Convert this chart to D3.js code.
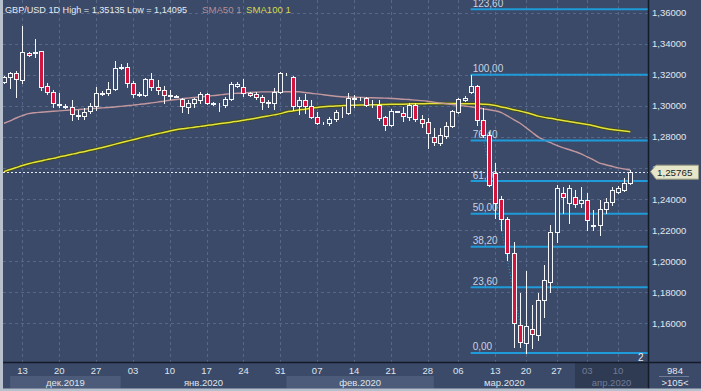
<!DOCTYPE html>
<html><head><meta charset="utf-8">
<script src="https://cdn.jsdelivr.net/npm/d3@7"></script>
<style>
body{margin:0;background:#3b4a68;overflow:hidden}
svg{display:block;font-family:"Liberation Sans",Arial,sans-serif}
</style>
</head><body>
<svg id="chart" width="701" height="391"></svg>
<script>
// ---------- DATA (daily GBP/USD candles) ----------
const opens = [1.3154,1.3186,1.3212,1.3167,1.3341,1.3341,1.3354,1.3128,1.3090,1.3006,
1.2996,1.2993,1.2935,1.2935,1.2967,1.2999,1.3077,1.3083,1.3109,1.3244,
1.3251,1.3147,1.3070,1.3070,1.3173,1.3122,1.3102,1.3064,1.3064,1.3044,
1.2993,1.3019,1.3038,1.3077,1.3019,1.3003,1.3006,1.3044,1.3128,1.3122,
1.3083,1.3077,1.3057,1.3019,1.3019,1.3090,1.3205,1.3186,1.2999,1.3038,
1.2999,1.2929,1.2890,1.2890,1.2916,1.2958,1.2954,1.3044,1.3051,1.3051,
1.3009,1.3006,1.2929,1.2877,1.2962,1.2954,1.2929,1.3006,1.2916,1.2896,
1.2800,1.2761,1.2806,1.2871,1.2961,1.3038,1.3090,1.3128,1.2909,1.2813,
1.2568,1.2400,1.2272,1.2053,1.1589,1.1473,1.1563,1.1525,1.1750,1.1866,
1.2188,1.2439,1.2375,1.2413,1.2375,1.2394,1.2227,1.2233,1.2336,1.2381,
1.2446,1.2458,1.2503];
const highs = [1.3193,1.3218,1.3225,1.3514,1.3347,1.3431,1.3354,1.3147,1.3102,1.3083,
1.3012,1.3038,1.2974,1.2986,1.3019,1.3122,1.3096,1.3154,1.3289,1.3270,
1.3276,1.3160,1.3090,1.3180,1.3212,1.3167,1.3128,1.3102,1.3070,1.3051,
1.3038,1.3051,1.3090,1.3083,1.3025,1.3019,1.3057,1.3154,1.3154,1.3173,
1.3090,1.3090,1.3070,1.3038,1.3115,1.3218,1.3212,1.3193,1.3057,1.3077,
1.3038,1.2961,1.2896,1.2929,1.2974,1.2993,1.3083,1.3070,1.3057,1.3057,
1.3038,1.3038,1.2935,1.2980,1.2967,1.2993,1.3019,1.3019,1.2941,1.2922,
1.2858,1.2858,1.2896,1.2974,1.3051,1.3064,1.3200,1.3135,1.2986,1.2832,
1.2632,1.2420,1.2285,1.2124,1.1795,1.1937,1.1718,1.1795,1.1975,1.2233,
1.2491,1.2478,1.2491,1.2458,1.2478,1.2439,1.2330,1.2394,1.2407,1.2478,
1.2484,1.2536,1.2587];
const lows = [1.3147,1.3115,1.3057,1.3147,1.3321,1.3315,1.3102,1.3077,1.2993,1.2993,
1.2986,1.2909,1.2916,1.2916,1.2954,1.2974,1.3070,1.3070,1.3102,1.3238,
1.3122,1.3057,1.3064,1.3064,1.3102,1.3077,1.3019,1.3044,1.3057,1.2961,
1.2954,1.2993,1.3019,1.3012,1.3006,1.2967,1.2993,1.3038,1.3122,1.3064,
1.3064,1.3044,1.2980,1.2993,1.2980,1.3083,1.3199,1.2974,1.2948,1.2954,
1.2922,1.2883,1.2883,1.2877,1.2903,1.2929,1.2948,1.2993,1.3038,1.2999,
1.2993,1.2909,1.2845,1.2871,1.2958,1.2903,1.2909,1.2903,1.2864,1.2729,
1.2748,1.2748,1.2793,1.2864,1.2954,1.3032,1.3083,1.2877,1.2800,1.2484,
1.2278,1.2201,1.2008,1.1447,1.1447,1.14095,1.1441,1.1492,1.1641,1.1802,
1.2124,1.2310,1.2246,1.2349,1.2349,1.2201,1.2201,1.2169,1.2310,1.2362,
1.2439,1.2452,1.2497];
const closes = [1.3186,1.3212,1.3173,1.3347,1.3328,1.3347,1.3122,1.3090,1.3019,1.3012,
1.2999,1.2948,1.2941,1.2961,1.2999,1.3083,1.3083,1.3109,1.3244,1.3251,
1.3147,1.3077,1.3077,1.3173,1.3122,1.3102,1.3070,1.3070,1.3060,1.2999,
1.3019,1.3044,1.3077,1.3019,1.3012,1.3006,1.3044,1.3141,1.3141,1.3083,
1.3070,1.3057,1.3025,1.3025,1.3090,1.3212,1.3206,1.2999,1.3038,1.2999,
1.2929,1.2890,1.2891,1.2916,1.2961,1.2961,1.3051,1.3052,1.3048,1.3006,
1.3012,1.2922,1.2877,1.2967,1.2965,1.2935,1.3006,1.2916,1.2890,1.2825,
1.2768,1.2813,1.2871,1.2967,1.3044,1.3051,1.3128,1.2909,1.2813,1.2491,
1.2375,1.2272,1.2053,1.1602,1.1480,1.1583,1.1531,1.1750,1.1879,1.2188,
1.2471,1.2413,1.2471,1.2368,1.2394,1.2265,1.2233,1.2336,1.2381,1.2458,
1.2471,1.2503,1.25765];
const sma50 = [1.2888,1.2903,1.2922,1.2937,1.2950,1.2956,1.2959,1.2962,1.2965,1.2968,
1.2971,1.2974,1.2976,1.2979,1.2982,1.2984,1.2987,1.2990,1.2993,1.2997,
1.3001,1.3005,1.3010,1.3014,1.3019,1.3024,1.3030,1.3036,1.3041,1.3046,
1.3050,1.3054,1.3058,1.3062,1.3066,1.3070,1.3075,1.3079,1.3081,1.3083,
1.3086,1.3088,1.3090,1.3090,1.3091,1.3091,1.3091,1.3091,1.3091,1.3086,
1.3081,1.3077,1.3072,1.3067,1.3062,1.3059,1.3057,1.3056,1.3055,1.3053,
1.3052,1.3051,1.3050,1.3048,1.3046,1.3043,1.3041,1.3037,1.3034,1.3030,
1.3024,1.3019,1.3014,1.3009,1.3005,1.2999,1.2994,1.2988,1.2981,1.2975,
1.2968,1.2957,1.2935,1.2912,1.2890,1.2860,1.2830,1.2800,1.2780,1.2763,
1.2746,1.2731,1.2719,1.2706,1.2691,1.2671,1.2652,1.2632,1.2621,1.2611,
1.2601,1.2594,1.2587];
const sma100 = [1.2576,1.2590,1.2603,1.2616,1.2627,1.2637,1.2645,1.2654,1.2662,1.2671,
1.2679,1.2688,1.2697,1.2705,1.2714,1.2722,1.2732,1.2742,1.2752,1.2762,
1.2772,1.2782,1.2792,1.2802,1.2811,1.2820,1.2829,1.2838,1.2846,1.2852,
1.2857,1.2863,1.2868,1.2874,1.2879,1.2885,1.2890,1.2895,1.2901,1.2907,
1.2914,1.2921,1.2928,1.2935,1.2942,1.2950,1.2961,1.2967,1.2974,1.2979,
1.2985,1.2990,1.2994,1.2997,1.2999,1.3001,1.3003,1.3004,1.3005,1.3006,
1.3007,1.3008,1.3009,1.3010,1.3011,1.3011,1.3012,1.3014,1.3014,1.3015,
1.3015,1.3015,1.3015,1.3015,1.3015,1.3014,1.3014,1.3012,1.3011,1.3009,
1.3003,1.2993,1.2985,1.2975,1.2967,1.2957,1.2946,1.2934,1.2926,1.2920,
1.2913,1.2906,1.2900,1.2893,1.2887,1.2880,1.2872,1.2863,1.2855,1.2848,
1.2843,1.2838,1.2834];
const weekTickIdx    = [3,9,15,21,27,33,39,45,51,57,63,69,74,80,85,90,95,100];
const weekTickLabels = ["13","20","27","03","10","17","24","31","07","14","21","28","06","13","20","27","03","10"];
const monthStartIdx  = [1,19,46,70,93];
const monthLabels    = ["дек.2019","янв.2020","фев.2020","мар.2020","апр.2020"];
const priceTicks     = [1.16,1.18,1.20,1.22,1.24,1.26,1.28,1.30,1.32,1.34,1.36];
const fibLevels      = [0,23.6,38.2,50,61.8,76.4,100,123.6];
const fibHighIdx = 76, fibHigh = 1.3200, fibLowIdx = 85, fibLow = 1.14095;
const lastPrice = 1.25765;
const headerText = "GBP/USD 1D High = 1,35135 Low = 1,14095";
const legendNames = ["SMA50 1","SMA100 1"];

// ---------- LAYOUT ----------
const W = 701, H = 391;
const plotL = 3, plotR = 648, plotT = 0, plotB = 362;
const BG = "#3b4a68", GRID = "#56678a", FIB = "#1f9bd9";
const svg = d3.select("#chart");
const x = d3.scaleLinear().domain([0, 102]).range([4, 630.3]);
const y = d3.scaleLinear().domain([1.16, 1.36]).range([323.3, 12.7]);
const fmtPrice = v => d3.format(".5f")(v).replace(".", ",");
const fmtFib = v => d3.format(".2f")(v).replace(".", ",");
const px = v => Math.round(v) + 0.5;

svg.append("rect").attr("width", W).attr("height", H).attr("fill", BG);

svg.append("defs").append("clipPath").attr("id", "plotClip")
  .append("rect").attr("x", plotL).attr("y", plotT).attr("width", plotR - plotL).attr("height", plotB - plotT);
const plot = svg.append("g").attr("clip-path", "url(#plotClip)");

// grid
plot.selectAll(".hg").data(priceTicks).join("line")
  .attr("x1", plotL).attr("x2", plotR).attr("y1", d => px(y(d))).attr("y2", d => px(y(d)))
  .attr("stroke", GRID).attr("stroke-dasharray", "3,3");
plot.selectAll(".vg").data(weekTickIdx).join("line")
  .attr("x1", d => px(x(d))).attr("x2", d => px(x(d))).attr("y1", plotT).attr("y2", plotB)
  .attr("stroke", GRID).attr("stroke-dasharray", "3,3");

// moving averages
const idx = d3.range(closes.length);
const lineGen = arr => d3.line().x(i => x(i)).y(i => y(arr[i])).curve(d3.curveMonotoneX)(idx);
plot.append("path").attr("d", lineGen(sma100)).attr("fill", "none").attr("stroke", "#414a22").attr("stroke-width", 3.4);
plot.append("path").attr("d", lineGen(sma100)).attr("fill", "none").attr("stroke", "#e4e43a").attr("stroke-width", 1.5);
plot.append("path").attr("d", lineGen(sma50)).attr("fill", "none").attr("stroke", "#c3979e").attr("stroke-width", 1.4);

// fibonacci
const fibPrice = l => fibLow + (fibHigh - fibLow) * l / 100;
plot.selectAll(".fl").data(fibLevels).join("line")
  .attr("x1", x(fibHighIdx)).attr("x2", plotR)
  .attr("y1", d => y(fibPrice(d))).attr("y2", d => y(fibPrice(d)))
  .attr("stroke", FIB).attr("stroke-width", 2);
plot.append("line")
  .attr("x1", x(fibHighIdx)).attr("y1", y(fibHigh)).attr("x2", x(fibLowIdx)).attr("y2", y(fibLow))
  .attr("stroke", FIB).attr("stroke-dasharray", "1,2");
plot.selectAll(".ft").data(fibLevels).join("text")
  .attr("x", x(fibHighIdx) + 2).attr("y", d => y(fibPrice(d)) - 2.5)
  .attr("font-size", 10).attr("fill", "#c9d2e2").text(fmtFib);
plot.append("text").attr("x", plotR - 10).attr("y", y(fibLow) + 8)
  .attr("font-size", 10).attr("fill", "#e8ecf4").text("2");

// last price dotted line
plot.append("line").attr("x1", plotL).attr("x2", plotR)
  .attr("y1", px(y(lastPrice))).attr("y2", px(y(lastPrice)))
  .attr("stroke", "#e8ecf4").attr("stroke-dasharray", "2,2");

// candles
const candles = plot.selectAll(".c").data(idx).join("g");
candles.append("line")
  .attr("x1", i => Math.round(x(i)) + 0.5).attr("x2", i => Math.round(x(i)) + 0.5)
  .attr("y1", i => Math.round(y(highs[i]))).attr("y2", i => Math.round(y(lows[i])) + 1)
  .attr("stroke", "#f4f6fa");
candles.append("rect")
  .attr("x", i => Math.round(x(i)) - 1.5).attr("width", 4)
  .attr("y", i => Math.round(y(Math.max(opens[i], closes[i]))) + 0.5)
  .attr("height", i => Math.max(0, Math.round(y(Math.min(opens[i], closes[i]))) - Math.round(y(Math.max(opens[i], closes[i])))))
  .attr("fill", i => closes[i] >= opens[i] ? BG : "#d2153d")
  .attr("stroke", "#f4f6fa");

// bottom axis area
const axisTop = plotB + 1, bandTop = 376, bandBot = 388.5;
monthStartIdx.forEach((s, k) => {
  const x0 = x(s), x1 = k + 1 < monthStartIdx.length ? x(monthStartIdx[k + 1]) : plotR;
  const last = k === monthStartIdx.length - 1;
  if (last) {
    svg.append("rect").attr("x", x0).attr("y", axisTop).attr("width", x1 - x0).attr("height", bandBot - axisTop).attr("fill", "#2f3b53");
  } else if (k % 2 === 0) {
    svg.append("rect").attr("x", x0).attr("y", bandTop).attr("width", x1 - x0).attr("height", bandBot - bandTop).attr("fill", "#4b5b79");
  }
  svg.append("text").attr("x", (x0 + x1) / 2).attr("y", 385.5).attr("text-anchor", "middle")
    .attr("font-size", 9.5).attr("fill", last ? "#6f7c97" : "#dfe5ee").text(monthLabels[k]);
});
svg.selectAll(".wt").data(weekTickIdx).join("text")
  .attr("x", d => x(d)).attr("y", 374).attr("text-anchor", "middle")
  .attr("font-size", 9.5).attr("fill", d => d >= monthStartIdx[monthStartIdx.length - 1] ? "#6f7c97" : "#dfe5ee")
  .text((d, k) => weekTickLabels[k]);

// frame lines
svg.append("line").attr("x1", plotL).attr("x2", W).attr("y1", plotB + 0.5).attr("y2", plotB + 0.5).attr("stroke", "#141b29").attr("stroke-width", 1.5);
svg.append("line").attr("x1", plotR + 0.5).attr("x2", plotR + 0.5).attr("y1", 0).attr("y2", H).attr("stroke", "#141b29").attr("stroke-width", 1.5);
svg.append("rect").attr("x", 0).attr("y", 0).attr("width", 3).attr("height", H).attr("fill", "#b7c0cd");
svg.append("rect").attr("x", 0).attr("y", 388.5).attr("width", W).attr("height", 3).attr("fill", "#b7c0cd");

// right axis
svg.selectAll(".pt").data(priceTicks).join("text")
  .attr("x", 652).attr("y", d => y(d) + 3.5)
  .attr("font-size", 9.5).attr("fill", "#e2e7ef").text(fmtPrice);
const ly = y(lastPrice);
svg.append("path")
  .attr("d", `M650.5,${ly}L656,${ly - 6.5}H698.5V${ly + 7.5}H656Z`)
  .attr("fill", "#e6e6ca").attr("stroke", "#9a9a80");
svg.append("text").attr("x", 657).attr("y", ly + 4).attr("font-size", 9.8).attr("fill", "#1c1c1c").text(fmtPrice(lastPrice));

// corner box
svg.append("text").attr("x", 675).attr("y", 373.5).attr("text-anchor", "middle").attr("font-size", 9.5).attr("fill", "#e2e7ef").text("984");
svg.append("line").attr("x1", 659).attr("x2", 689).attr("y1", 376.5).attr("y2", 376.5).attr("stroke", "#6f7c97");
svg.append("text").attr("x", 675).attr("y", 386).attr("text-anchor", "middle").attr("font-size", 9.5).attr("fill", "#e2e7ef").text(">105<");

// header
svg.append("text").attr("x", 5).attr("y", 12.5).attr("font-size", 9.6)
  .attr("textLength", 182).attr("lengthAdjust", "spacingAndGlyphs")
  .attr("fill", "#e6ebf2").text(headerText);
svg.append("text").attr("x", 202).attr("y", 12.5).attr("font-size", 9.6).attr("fill", "#b48e96").text(legendNames[0]);
svg.append("text").attr("x", 246).attr("y", 12.5).attr("font-size", 9.6).attr("fill", "#d8d84a").text(legendNames[1]);
</script>
</body></html>
